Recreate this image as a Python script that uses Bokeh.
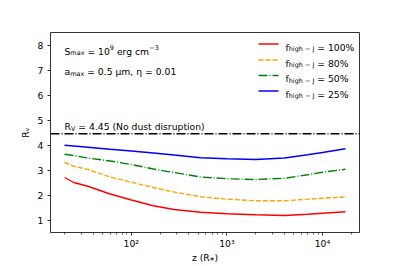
import math
from bokeh.plotting import figure
from bokeh.models import Label, Span, Arrow, FixedTicker, Range1d
from bokeh.embed import file_html
from bokeh.resources import INLINE

# ---------------- data ----------------
z = [20, 25, 35, 60, 100, 170, 280, 530, 1000, 2000, 4000, 7000, 10000, 17400]
rv_f100 = [2.70, 2.50, 2.35, 2.04, 1.80, 1.57, 1.42, 1.31, 1.25, 1.21, 1.18, 1.23, 1.27, 1.33]
rv_f80 = [3.31, 3.15, 3.02, 2.72, 2.51, 2.30, 2.12, 1.93, 1.83, 1.77, 1.77, 1.83, 1.87, 1.92]
rv_f50 = [3.63, 3.58, 3.48, 3.36, 3.22, 3.04, 2.90, 2.72, 2.65, 2.62, 2.67, 2.81, 2.91, 3.03]
rv_f25 = [3.99, 3.96, 3.91, 3.83, 3.76, 3.68, 3.60, 3.49, 3.45, 3.42, 3.48, 3.61, 3.70, 3.85]
rv_no_disruption = 4.45
series_labels = ["100%", "80%", "50%", "25%"]
x_major_ticks = [100, 1000, 10000]
x_major_labels = {100: "10²", 1000: "10³", 10000: "10⁴"}
y_ticks = [1, 2, 3, 4, 5, 6, 7, 8]
x_label = "z (R⁎)"
y_label = "Rᵥ"

# ---------------- styling ----------------
FONT = "DejaVu Sans"
FS = 9.24
colors = ["red", "orange", "green", "blue"]
dashes = ["solid", "5 2", "9 2 1 2", "solid"]

W = {' ': .318, '%': .950, '(': .390, ')': .390, '*': .500, ',': .318, '-': .361,
     '.': .318, '=': .838, 'J': .295, 'N': .748, 'R': .695, 'S': .635, 'V': .684,
     'a': .613, 'c': .550, 'd': .635, 'e': .615, 'f': .352, 'g': .635, 'h': .634,
     'i': .278, 'm': .974, 'n': .634, 'o': .612, 'p': .635, 'r': .411, 's': .521,
     't': .392, 'u': .634, 'x': .592, 'z': .525, 'μ': .636, 'η': .634, '−': .838,
     '∗': .838}
for d in "0123456789":
    W[d] = .636


def tw(s, fs):
    return sum(W.get(ch, 0.6) for ch in s) * fs


xmin_log = math.log10(min(z))
xmax_log = math.log10(max(z))
span = xmax_log - xmin_log
x_range = Range1d(10 ** (xmin_log - 0.05 * span), 10 ** (xmax_log + 0.05 * span))
y_range = Range1d(0.5, 8.5)

p = figure(width=399, height=266, x_axis_type="log", x_range=x_range, y_range=y_range,
           output_backend="svg", toolbar_location=None,
           min_border_left=50, min_border_right=40, min_border_top=32, min_border_bottom=34)
p.xgrid.visible = False
p.ygrid.visible = False
p.outline_line_color = "black"
p.outline_line_width = 0.8
p.background_fill_color = "white"
p.border_fill_color = "white"

p.xaxis.ticker = FixedTicker(ticks=x_major_ticks,
                             minor_ticks=[m * 10 ** e for e in (1, 2, 3, 4) for m in range(2, 10)])
p.xaxis.major_label_overrides = x_major_labels
p.yaxis.ticker = FixedTicker(ticks=y_ticks, minor_ticks=[])
for ax in (p.xaxis[0], p.yaxis[0]):
    ax.axis_line_color = None
    ax.major_tick_out = 3
    ax.major_tick_in = 0
    ax.minor_tick_out = 2
    ax.minor_tick_in = 0
    ax.major_tick_line_color = "black"
    ax.minor_tick_line_color = "black"
    ax.major_tick_line_width = 0.8
    ax.minor_tick_line_width = 0.6
    ax.major_label_text_font = FONT
    ax.major_label_text_font_size = f"{FS}px"
    ax.major_label_text_color = "black"
    ax.axis_label_text_font = FONT
    ax.axis_label_text_font_size = f"{FS}px"
    ax.axis_label_text_font_style = "normal"
    ax.axis_label_text_color = "black"
p.xaxis.major_label_standoff = 2
p.yaxis.major_label_standoff = 4
p.xaxis.axis_label = x_label
p.yaxis.axis_label = y_label
p.xaxis.axis_label_standoff = 0
p.yaxis.axis_label_standoff = 4

series = [rv_f100, rv_f80, rv_f50, rv_f25]
for vals, c, d in zip(series, colors, dashes):
    p.line(z, vals, line_color=c, line_width=1.4, line_dash=d)

p.add_layout(Span(location=rv_no_disruption, dimension="width", line_color="black",
                  line_width=1.4, line_dash="9 2 1 2"))


def mtext(x0, y0, parts):
    pos = 0.0
    for s, kind in parts:
        fs = FS if kind == "n" else FS * 0.7
        dy = 0.0 if kind == "n" else (-0.22 * FS if kind == "sub" else 0.42 * FS)
        lead = len(s) - len(s.lstrip(" "))
        core = s.strip(" ")
        start = pos + tw(" " * lead, fs)
        if core:
            p.add_layout(Label(x=x0 + start, y=y0 + dy, x_units="screen", y_units="screen",
                               text=core, text_font=FONT, text_font_size=f"{fs:.2f}px",
                               text_baseline="alphabetic", text_align="left",
                               text_color="black"))
        pos += tw(s, fs)
    return pos


# annotations
mtext(14, 181.5, [("S", "n"), ("max", "sub"), (" = 10", "n"), ("9", "sup"),
                  (" erg cm", "n"), ("−3", "sup")])
mtext(14, 161, [("a", "n"), ("max", "sub"), (" = 0.5 μm, η = 0.01", "n")])
mtext(14, 106, [("R", "n"), ("V", "sub"), (f" = {rv_no_disruption} (No dust disruption)", "n")])

# legend
rows = [188.5, 172.5, 157, 141.5]
for lab, c, d, ry in zip(series_labels, colors, dashes, rows):
    p.add_layout(Arrow(end=None, x_start=208, y_start=ry, x_end=228, y_end=ry,
                       start_units="screen", end_units="screen",
                       line_color=c, line_width=1.4, line_dash=d))
    mtext(235, ry - 3.3, [("f", "n"), ("high − J", "sub"), (f" = {lab}", "n")])

open("out.html", "w").write(file_html(p, INLINE))
